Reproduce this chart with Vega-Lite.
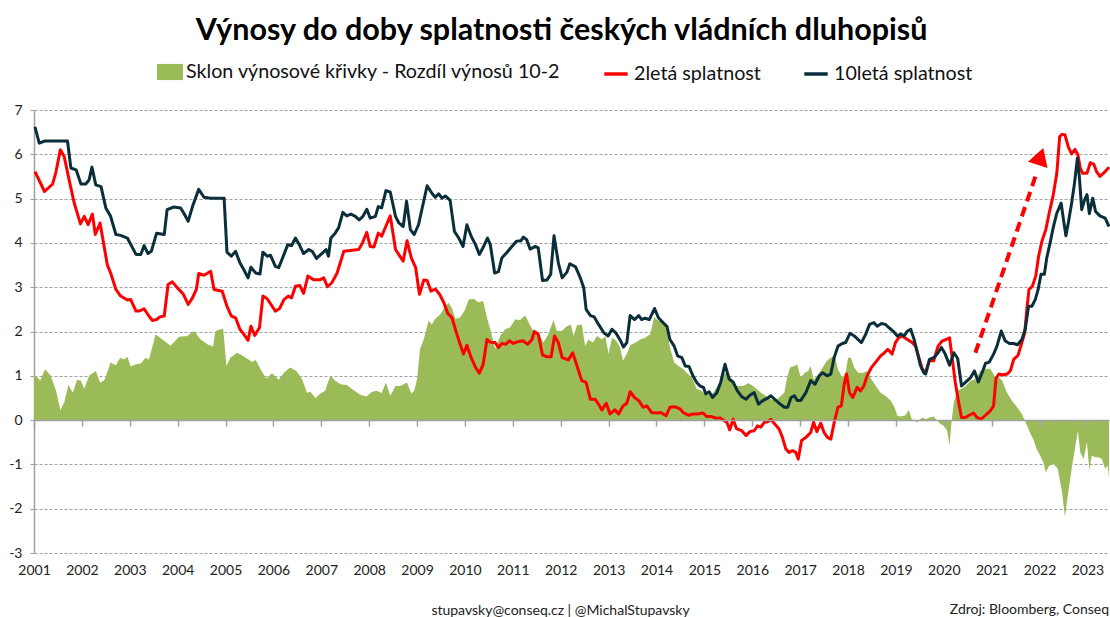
{
"$schema": "https://vega.github.io/schema/vega-lite/v6.json",
"width": 1075, "height": 443,
"autosize": {"type": "none"},
"padding": {"left": 34, "top": 110, "right": 1, "bottom": 64},
"background": "white",
"title": {"text": "Výnosy do doby splatnosti českých vládních dluhopisů", "font": "Lato", "fontSize": 30.5, "fontWeight": "bold", "color": "#000000", "anchor": "middle", "dx": -10, "baseline": "alphabetic", "offset": -11},
"config": {
  "view": {"stroke": null},
  "axisY": {"values": [-3,-2,-1,0,1,2,3,4,5,6,7], "labelExpr": "'' + datum.value", "grid": true, "gridDash": [3,2], "gridColor": "#a0a0a0", "gridWidth": 1, "domain": true, "domainColor": "#a0a0a0", "domainWidth": 1.5, "ticks": true, "tickSize": 4, "tickColor": "#a0a0a0", "labelFont": "Lato", "labelFontSize": 14, "labelColor": "#222222", "labelPadding": 8, "title": null},
  "legend": {"orient": "none", "direction": "horizontal", "gridAlign": "none", "labelFont": "Lato", "labelFontSize": 19.7, "labelColor": "#111111", "labelOffset": 3, "symbolSize": 676, "title": null, "padding": 0, "labelLimit": 500}
},
"datasets": {
  "a": [{"t":2001.0,"v":1.0},{"t":2001.04,"v":1.0},{"t":2001.13,"v":0.89},{"t":2001.23,"v":1.15},{"t":2001.35,"v":1.0},{"t":2001.46,"v":0.66},{"t":2001.55,"v":0.23},{"t":2001.63,"v":0.4},{"t":2001.72,"v":0.79},{"t":2001.81,"v":0.62},{"t":2001.9,"v":0.91},{"t":2001.98,"v":0.89},{"t":2002.05,"v":0.71},{"t":2002.15,"v":1.0},{"t":2002.29,"v":1.11},{"t":2002.38,"v":0.85},{"t":2002.47,"v":0.9},{"t":2002.6,"v":1.3},{"t":2002.71,"v":1.24},{"t":2002.8,"v":1.41},{"t":2002.88,"v":1.37},{"t":2002.95,"v":1.43},{"t":2003.02,"v":1.21},{"t":2003.13,"v":1.26},{"t":2003.23,"v":1.28},{"t":2003.33,"v":1.41},{"t":2003.4,"v":1.36},{"t":2003.54,"v":1.94},{"t":2003.68,"v":1.82},{"t":2003.85,"v":1.68},{"t":2004.03,"v":1.88},{"t":2004.2,"v":1.9},{"t":2004.34,"v":2.01},{"t":2004.48,"v":1.82},{"t":2004.62,"v":1.71},{"t":2004.74,"v":1.66},{"t":2004.79,"v":2.01},{"t":2004.95,"v":2.07},{"t":2005.02,"v":1.22},{"t":2005.1,"v":1.41},{"t":2005.24,"v":1.52},{"t":2005.35,"v":1.46},{"t":2005.56,"v":1.31},{"t":2005.63,"v":1.36},{"t":2005.73,"v":1.15},{"t":2005.85,"v":0.94},{"t":2005.97,"v":1.06},{"t":2006.11,"v":0.91},{"t":2006.22,"v":1.07},{"t":2006.35,"v":1.19},{"t":2006.48,"v":1.11},{"t":2006.6,"v":0.92},{"t":2006.7,"v":0.62},{"t":2006.77,"v":0.64},{"t":2006.88,"v":0.5},{"t":2006.98,"v":0.6},{"t":2007.08,"v":0.66},{"t":2007.19,"v":1.0},{"t":2007.29,"v":0.89},{"t":2007.4,"v":0.81},{"t":2007.53,"v":0.79},{"t":2007.67,"v":0.68},{"t":2007.81,"v":0.57},{"t":2007.94,"v":0.53},{"t":2008.06,"v":0.64},{"t":2008.16,"v":0.66},{"t":2008.26,"v":0.61},{"t":2008.35,"v":0.85},{"t":2008.44,"v":0.55},{"t":2008.55,"v":0.77},{"t":2008.65,"v":0.77},{"t":2008.79,"v":0.85},{"t":2008.88,"v":0.6},{"t":2008.94,"v":0.66},{"t":2009.0,"v":0.92},{"t":2009.06,"v":1.6},{"t":2009.14,"v":1.82},{"t":2009.24,"v":2.24},{"t":2009.31,"v":2.16},{"t":2009.38,"v":2.29},{"t":2009.49,"v":2.39},{"t":2009.58,"v":2.56},{"t":2009.66,"v":2.65},{"t":2009.73,"v":2.52},{"t":2009.8,"v":2.29},{"t":2009.89,"v":2.31},{"t":2009.99,"v":2.46},{"t":2010.08,"v":2.72},{"t":2010.18,"v":2.74},{"t":2010.28,"v":2.66},{"t":2010.38,"v":2.69},{"t":2010.46,"v":2.31},{"t":2010.53,"v":2.05},{"t":2010.63,"v":1.61},{"t":2010.74,"v":1.91},{"t":2010.84,"v":2.05},{"t":2010.94,"v":2.09},{"t":2011.05,"v":2.27},{"t":2011.15,"v":2.26},{"t":2011.26,"v":2.36},{"t":2011.35,"v":2.16},{"t":2011.43,"v":2.01},{"t":2011.53,"v":1.99},{"t":2011.64,"v":1.75},{"t":2011.74,"v":1.94},{"t":2011.85,"v":2.26},{"t":2011.92,"v":2.01},{"t":2012.02,"v":2.01},{"t":2012.13,"v":2.12},{"t":2012.21,"v":2.16},{"t":2012.27,"v":1.9},{"t":2012.34,"v":2.14},{"t":2012.44,"v":2.16},{"t":2012.51,"v":1.67},{"t":2012.58,"v":1.82},{"t":2012.67,"v":1.75},{"t":2012.76,"v":1.9},{"t":2012.86,"v":1.82},{"t":2012.93,"v":1.9},{"t":2013.0,"v":1.49},{"t":2013.07,"v":1.86},{"t":2013.16,"v":1.79},{"t":2013.24,"v":1.64},{"t":2013.3,"v":1.34},{"t":2013.38,"v":1.49},{"t":2013.45,"v":1.69},{"t":2013.56,"v":1.75},{"t":2013.66,"v":1.82},{"t":2013.76,"v":1.86},{"t":2013.87,"v":1.94},{"t":2013.95,"v":2.33},{"t":2014.04,"v":2.24},{"t":2014.15,"v":2.2},{"t":2014.23,"v":1.97},{"t":2014.28,"v":1.64},{"t":2014.37,"v":1.3},{"t":2014.46,"v":1.22},{"t":2014.56,"v":1.15},{"t":2014.63,"v":1.07},{"t":2014.74,"v":0.96},{"t":2014.84,"v":0.7},{"t":2014.94,"v":0.66},{"t":2015.05,"v":0.56},{"t":2015.19,"v":0.62},{"t":2015.36,"v":0.92},{"t":2015.43,"v":1.07},{"t":2015.53,"v":1.0},{"t":2015.67,"v":0.77},{"t":2015.81,"v":0.77},{"t":2015.92,"v":0.83},{"t":2016.02,"v":0.77},{"t":2016.18,"v":0.62},{"t":2016.28,"v":0.55},{"t":2016.39,"v":0.47},{"t":2016.49,"v":0.44},{"t":2016.6,"v":0.55},{"t":2016.67,"v":0.62},{"t":2016.72,"v":0.92},{"t":2016.79,"v":1.19},{"t":2016.88,"v":1.22},{"t":2016.94,"v":1.26},{"t":2017.01,"v":0.96},{"t":2017.1,"v":1.07},{"t":2017.17,"v":1.11},{"t":2017.22,"v":1.22},{"t":2017.28,"v":0.92},{"t":2017.36,"v":1.0},{"t":2017.47,"v":1.19},{"t":2017.56,"v":1.34},{"t":2017.64,"v":1.41},{"t":2017.72,"v":1.46},{"t":2017.79,"v":1.15},{"t":2017.88,"v":0.96},{"t":2017.95,"v":1.07},{"t":2018.0,"v":1.41},{"t":2018.06,"v":1.41},{"t":2018.13,"v":1.19},{"t":2018.21,"v":1.07},{"t":2018.32,"v":1.07},{"t":2018.4,"v":1.11},{"t":2018.49,"v":0.92},{"t":2018.58,"v":0.77},{"t":2018.68,"v":0.62},{"t":2018.78,"v":0.55},{"t":2018.89,"v":0.44},{"t":2018.97,"v":0.29},{"t":2019.03,"v":0.1},{"t":2019.1,"v":0.08},{"t":2019.2,"v":0.11},{"t":2019.27,"v":0.23},{"t":2019.33,"v":0.02},{"t":2019.38,"v":-0.01},{"t":2019.44,"v":-0.05},{"t":2019.55,"v":0.06},{"t":2019.62,"v":0.02},{"t":2019.7,"v":0.06},{"t":2019.79,"v":0.08},{"t":2019.86,"v":-0.01},{"t":2019.93,"v":-0.09},{"t":2020.0,"v":-0.13},{"t":2020.07,"v":-0.24},{"t":2020.12,"v":-0.58},{"t":2020.16,"v":-0.05},{"t":2020.21,"v":0.4},{"t":2020.28,"v":0.66},{"t":2020.37,"v":0.71},{"t":2020.45,"v":0.76},{"t":2020.56,"v":0.89},{"t":2020.66,"v":0.92},{"t":2020.76,"v":1.11},{"t":2020.87,"v":1.16},{"t":2020.97,"v":1.16},{"t":2021.08,"v":0.96},{"t":2021.16,"v":0.96},{"t":2021.22,"v":0.89},{"t":2021.32,"v":0.62},{"t":2021.42,"v":0.44},{"t":2021.53,"v":0.29},{"t":2021.63,"v":0.14},{"t":2021.69,"v":-0.01},{"t":2021.74,"v":-0.13},{"t":2021.81,"v":-0.31},{"t":2021.88,"v":-0.46},{"t":2021.94,"v":-0.65},{"t":2022.01,"v":-0.8},{"t":2022.08,"v":-0.95},{"t":2022.13,"v":-1.18},{"t":2022.2,"v":-1.03},{"t":2022.29,"v":-0.99},{"t":2022.38,"v":-1.1},{"t":2022.47,"v":-1.63},{"t":2022.53,"v":-2.19},{"t":2022.59,"v":-1.7},{"t":2022.67,"v":-1.1},{"t":2022.76,"v":-0.5},{"t":2022.8,"v":-0.24},{"t":2022.85,"v":-0.73},{"t":2022.92,"v":-0.88},{"t":2022.99,"v":-0.5},{"t":2023.04,"v":-1.14},{"t":2023.09,"v":-0.8},{"t":2023.16,"v":-0.84},{"t":2023.23,"v":-0.84},{"t":2023.3,"v":-0.88},{"t":2023.37,"v":-1.1},{"t":2023.42,"v":-1.03},{"t":2023.45,"v":-1.29}],
  "r": [{"t":2001.02,"v":5.61},{"t":2001.22,"v":5.16},{"t":2001.39,"v":5.33},{"t":2001.46,"v":5.61},{"t":2001.55,"v":6.1},{"t":2001.63,"v":5.95},{"t":2001.74,"v":5.39},{"t":2001.84,"v":4.9},{"t":2001.97,"v":4.43},{"t":2002.05,"v":4.6},{"t":2002.13,"v":4.41},{"t":2002.22,"v":4.65},{"t":2002.28,"v":4.19},{"t":2002.38,"v":4.45},{"t":2002.53,"v":3.51},{"t":2002.6,"v":3.32},{"t":2002.71,"v":2.95},{"t":2002.81,"v":2.8},{"t":2002.95,"v":2.71},{"t":2003.02,"v":2.72},{"t":2003.13,"v":2.46},{"t":2003.19,"v":2.46},{"t":2003.3,"v":2.51},{"t":2003.4,"v":2.35},{"t":2003.47,"v":2.25},{"t":2003.56,"v":2.27},{"t":2003.63,"v":2.33},{"t":2003.72,"v":2.35},{"t":2003.8,"v":3.06},{"t":2003.89,"v":3.12},{"t":2003.99,"v":2.99},{"t":2004.12,"v":2.84},{"t":2004.22,"v":2.61},{"t":2004.31,"v":2.76},{"t":2004.39,"v":2.95},{"t":2004.44,"v":3.31},{"t":2004.55,"v":3.27},{"t":2004.69,"v":3.36},{"t":2004.76,"v":2.95},{"t":2004.93,"v":2.91},{"t":2005.03,"v":2.57},{"t":2005.12,"v":2.35},{"t":2005.21,"v":2.31},{"t":2005.3,"v":2.05},{"t":2005.38,"v":1.94},{"t":2005.47,"v":1.8},{"t":2005.53,"v":2.12},{"t":2005.61,"v":1.91},{"t":2005.71,"v":2.09},{"t":2005.78,"v":2.8},{"t":2005.87,"v":2.74},{"t":2005.95,"v":2.61},{"t":2006.04,"v":2.46},{"t":2006.13,"v":2.52},{"t":2006.22,"v":2.72},{"t":2006.31,"v":2.8},{"t":2006.38,"v":2.76},{"t":2006.46,"v":3.02},{"t":2006.55,"v":3.04},{"t":2006.63,"v":2.86},{"t":2006.72,"v":3.25},{"t":2006.84,"v":3.17},{"t":2006.98,"v":3.17},{"t":2007.05,"v":3.21},{"t":2007.13,"v":3.01},{"t":2007.22,"v":3.1},{"t":2007.33,"v":3.32},{"t":2007.47,"v":3.81},{"t":2007.6,"v":3.83},{"t":2007.78,"v":3.85},{"t":2007.86,"v":4.0},{"t":2007.95,"v":4.24},{"t":2008.02,"v":3.92},{"t":2008.1,"v":3.91},{"t":2008.19,"v":4.22},{"t":2008.26,"v":4.15},{"t":2008.44,"v":4.61},{"t":2008.55,"v":3.85},{"t":2008.64,"v":3.7},{"t":2008.71,"v":3.59},{"t":2008.79,"v":4.05},{"t":2008.88,"v":3.66},{"t":2008.97,"v":3.44},{"t":2009.05,"v":2.84},{"t":2009.14,"v":3.16},{"t":2009.21,"v":3.15},{"t":2009.29,"v":2.91},{"t":2009.38,"v":2.96},{"t":2009.47,"v":2.84},{"t":2009.56,"v":2.65},{"t":2009.64,"v":2.41},{"t":2009.73,"v":2.31},{"t":2009.81,"v":2.01},{"t":2009.9,"v":1.71},{"t":2009.97,"v":1.49},{"t":2010.04,"v":1.69},{"t":2010.13,"v":1.41},{"t":2010.22,"v":1.19},{"t":2010.3,"v":1.06},{"t":2010.38,"v":1.26},{"t":2010.46,"v":1.82},{"t":2010.53,"v":1.76},{"t":2010.63,"v":1.75},{"t":2010.7,"v":1.64},{"t":2010.77,"v":1.73},{"t":2010.85,"v":1.71},{"t":2010.93,"v":1.79},{"t":2011.01,"v":1.73},{"t":2011.1,"v":1.77},{"t":2011.21,"v":1.79},{"t":2011.31,"v":1.71},{"t":2011.4,"v":1.82},{"t":2011.45,"v":2.0},{"t":2011.53,"v":1.94},{"t":2011.62,"v":1.47},{"t":2011.71,"v":1.43},{"t":2011.8,"v":1.43},{"t":2011.87,"v":1.9},{"t":2011.95,"v":1.75},{"t":2012.03,"v":1.41},{"t":2012.16,"v":1.36},{"t":2012.25,"v":1.52},{"t":2012.35,"v":1.19},{"t":2012.44,"v":0.89},{"t":2012.53,"v":0.85},{"t":2012.62,"v":0.47},{"t":2012.72,"v":0.47},{"t":2012.79,"v":0.36},{"t":2012.86,"v":0.23},{"t":2012.95,"v":0.38},{"t":2013.03,"v":0.14},{"t":2013.13,"v":0.23},{"t":2013.21,"v":0.14},{"t":2013.3,"v":0.32},{"t":2013.38,"v":0.38},{"t":2013.45,"v":0.64},{"t":2013.54,"v":0.51},{"t":2013.63,"v":0.44},{"t":2013.72,"v":0.29},{"t":2013.8,"v":0.32},{"t":2013.9,"v":0.17},{"t":2014.01,"v":0.16},{"t":2014.09,"v":0.17},{"t":2014.2,"v":0.1},{"t":2014.28,"v":0.29},{"t":2014.39,"v":0.3},{"t":2014.48,"v":0.26},{"t":2014.56,"v":0.17},{"t":2014.67,"v":0.11},{"t":2014.77,"v":0.14},{"t":2014.87,"v":0.14},{"t":2014.97,"v":0.16},{"t":2015.05,"v":0.08},{"t":2015.15,"v":0.08},{"t":2015.26,"v":0.04},{"t":2015.33,"v":0.05},{"t":2015.41,"v":-0.01},{"t":2015.47,"v":-0.05},{"t":2015.53,"v":-0.22},{"t":2015.6,"v":0.02},{"t":2015.67,"v":-0.19},{"t":2015.78,"v":-0.24},{"t":2015.87,"v":-0.35},{"t":2015.95,"v":-0.26},{"t":2016.04,"v":-0.24},{"t":2016.11,"v":-0.13},{"t":2016.18,"v":-0.16},{"t":2016.25,"v":-0.05},{"t":2016.32,"v":-0.04},{"t":2016.39,"v":0.02},{"t":2016.47,"v":-0.09},{"t":2016.56,"v":-0.2},{"t":2016.63,"v":-0.39},{"t":2016.7,"v":-0.65},{"t":2016.77,"v":-0.73},{"t":2016.84,"v":-0.69},{"t":2016.91,"v":-0.73},{"t":2016.96,"v":-0.88},{"t":2017.03,"v":-0.46},{"t":2017.12,"v":-0.39},{"t":2017.22,"v":-0.28},{"t":2017.28,"v":-0.05},{"t":2017.35,"v":-0.26},{"t":2017.43,"v":-0.07},{"t":2017.5,"v":-0.28},{"t":2017.57,"v":-0.39},{"t":2017.64,"v":-0.43},{"t":2017.72,"v":-0.01},{"t":2017.79,"v":0.29},{"t":2017.86,"v":0.32},{"t":2017.92,"v":0.81},{"t":2017.97,"v":1.04},{"t":2018.03,"v":0.62},{"t":2018.1,"v":0.51},{"t":2018.19,"v":0.74},{"t":2018.26,"v":0.66},{"t":2018.33,"v":0.77},{"t":2018.4,"v":1.0},{"t":2018.49,"v":1.19},{"t":2018.58,"v":1.31},{"t":2018.68,"v":1.45},{"t":2018.75,"v":1.51},{"t":2018.83,"v":1.6},{"t":2018.92,"v":1.49},{"t":2018.99,"v":1.75},{"t":2019.06,"v":1.86},{"t":2019.13,"v":1.9},{"t":2019.24,"v":1.82},{"t":2019.34,"v":1.75},{"t":2019.41,"v":1.67},{"t":2019.48,"v":1.41},{"t":2019.55,"v":1.15},{"t":2019.62,"v":1.07},{"t":2019.7,"v":1.34},{"t":2019.79,"v":1.34},{"t":2019.88,"v":1.67},{"t":2019.97,"v":1.79},{"t":2020.05,"v":1.82},{"t":2020.12,"v":1.86},{"t":2020.17,"v":1.45},{"t":2020.24,"v":0.85},{"t":2020.31,"v":0.4},{"t":2020.37,"v":0.06},{"t":2020.45,"v":0.06},{"t":2020.53,"v":0.11},{"t":2020.62,"v":0.16},{"t":2020.69,"v":0.06},{"t":2020.78,"v":0.02},{"t":2020.87,"v":0.11},{"t":2020.97,"v":0.21},{"t":2021.04,"v":0.32},{"t":2021.09,"v":0.94},{"t":2021.15,"v":1.04},{"t":2021.22,"v":1.02},{"t":2021.32,"v":1.04},{"t":2021.39,"v":1.11},{"t":2021.46,"v":1.37},{"t":2021.55,"v":1.46},{"t":2021.63,"v":1.75},{"t":2021.69,"v":1.97},{"t":2021.74,"v":2.57},{"t":2021.78,"v":2.95},{"t":2021.85,"v":3.02},{"t":2021.92,"v":3.25},{"t":2021.98,"v":3.7},{"t":2022.05,"v":4.04},{"t":2022.13,"v":4.3},{"t":2022.2,"v":4.67},{"t":2022.28,"v":5.05},{"t":2022.36,"v":5.57},{"t":2022.42,"v":6.4},{"t":2022.47,"v":6.45},{"t":2022.53,"v":6.44},{"t":2022.6,"v":6.17},{"t":2022.67,"v":6.01},{"t":2022.74,"v":6.11},{"t":2022.8,"v":5.99},{"t":2022.85,"v":5.69},{"t":2022.9,"v":5.57},{"t":2022.99,"v":5.57},{"t":2023.06,"v":5.81},{"t":2023.13,"v":5.78},{"t":2023.19,"v":5.61},{"t":2023.26,"v":5.5},{"t":2023.37,"v":5.61},{"t":2023.45,"v":5.71}],
  "d": [{"t":2001.02,"v":6.62},{"t":2001.11,"v":6.25},{"t":2001.22,"v":6.3},{"t":2001.7,"v":6.3},{"t":2001.77,"v":5.69},{"t":2001.88,"v":5.65},{"t":2001.98,"v":5.33},{"t":2002.08,"v":5.33},{"t":2002.15,"v":5.42},{"t":2002.21,"v":5.71},{"t":2002.29,"v":5.31},{"t":2002.4,"v":5.27},{"t":2002.5,"v":4.79},{"t":2002.6,"v":4.6},{"t":2002.71,"v":4.19},{"t":2002.81,"v":4.17},{"t":2002.95,"v":4.11},{"t":2003.13,"v":3.74},{"t":2003.23,"v":3.74},{"t":2003.3,"v":3.94},{"t":2003.38,"v":3.76},{"t":2003.45,"v":3.81},{"t":2003.56,"v":4.22},{"t":2003.72,"v":4.19},{"t":2003.78,"v":4.75},{"t":2003.92,"v":4.81},{"t":2004.06,"v":4.79},{"t":2004.13,"v":4.67},{"t":2004.22,"v":4.49},{"t":2004.31,"v":4.82},{"t":2004.44,"v":5.21},{"t":2004.55,"v":5.03},{"t":2004.69,"v":5.01},{"t":2004.97,"v":5.01},{"t":2005.03,"v":3.79},{"t":2005.12,"v":3.7},{"t":2005.21,"v":3.81},{"t":2005.3,"v":3.55},{"t":2005.38,"v":3.4},{"t":2005.47,"v":3.21},{"t":2005.53,"v":3.45},{"t":2005.63,"v":3.32},{"t":2005.72,"v":3.3},{"t":2005.78,"v":3.79},{"t":2005.87,"v":3.7},{"t":2005.94,"v":3.72},{"t":2006.04,"v":3.47},{"t":2006.11,"v":3.44},{"t":2006.22,"v":3.74},{"t":2006.3,"v":3.96},{"t":2006.38,"v":3.94},{"t":2006.46,"v":4.11},{"t":2006.55,"v":3.94},{"t":2006.63,"v":3.76},{"t":2006.74,"v":3.85},{"t":2006.81,"v":3.81},{"t":2006.9,"v":3.65},{"t":2007.01,"v":3.76},{"t":2007.1,"v":3.85},{"t":2007.15,"v":3.7},{"t":2007.2,"v":4.11},{"t":2007.29,"v":4.22},{"t":2007.36,"v":4.34},{"t":2007.45,"v":4.69},{"t":2007.53,"v":4.61},{"t":2007.62,"v":4.65},{"t":2007.71,"v":4.6},{"t":2007.79,"v":4.52},{"t":2007.87,"v":4.6},{"t":2007.95,"v":4.76},{"t":2008.02,"v":4.56},{"t":2008.13,"v":4.6},{"t":2008.19,"v":4.82},{"t":2008.26,"v":4.79},{"t":2008.35,"v":5.18},{"t":2008.44,"v":5.15},{"t":2008.55,"v":4.6},{"t":2008.62,"v":4.45},{"t":2008.71,"v":4.37},{"t":2008.78,"v":4.94},{"t":2008.86,"v":4.3},{"t":2008.94,"v":4.19},{"t":2009.03,"v":4.41},{"t":2009.21,"v":5.29},{"t":2009.31,"v":5.12},{"t":2009.38,"v":5.03},{"t":2009.45,"v":5.11},{"t":2009.52,"v":5.01},{"t":2009.59,"v":5.06},{"t":2009.69,"v":4.96},{"t":2009.78,"v":4.26},{"t":2009.87,"v":4.11},{"t":2009.96,"v":3.92},{"t":2010.04,"v":4.41},{"t":2010.13,"v":4.15},{"t":2010.22,"v":3.96},{"t":2010.3,"v":3.74},{"t":2010.39,"v":3.92},{"t":2010.47,"v":4.11},{"t":2010.53,"v":3.96},{"t":2010.62,"v":3.32},{"t":2010.7,"v":3.35},{"t":2010.77,"v":3.66},{"t":2010.88,"v":3.79},{"t":2010.98,"v":3.92},{"t":2011.08,"v":4.04},{"t":2011.17,"v":4.05},{"t":2011.22,"v":4.13},{"t":2011.29,"v":4.07},{"t":2011.36,"v":3.86},{"t":2011.47,"v":3.92},{"t":2011.53,"v":3.89},{"t":2011.62,"v":3.15},{"t":2011.71,"v":3.16},{"t":2011.79,"v":3.29},{"t":2011.86,"v":4.16},{"t":2011.95,"v":3.55},{"t":2012.03,"v":3.21},{"t":2012.13,"v":3.34},{"t":2012.19,"v":3.53},{"t":2012.31,"v":3.46},{"t":2012.41,"v":3.21},{"t":2012.48,"v":2.99},{"t":2012.53,"v":2.5},{"t":2012.62,"v":2.36},{"t":2012.7,"v":2.33},{"t":2012.79,"v":2.16},{"t":2012.9,"v":1.97},{"t":2012.99,"v":1.9},{"t":2013.07,"v":2.05},{"t":2013.15,"v":1.97},{"t":2013.24,"v":1.81},{"t":2013.31,"v":1.65},{"t":2013.38,"v":1.75},{"t":2013.45,"v":2.36},{"t":2013.54,"v":2.27},{"t":2013.63,"v":2.36},{"t":2013.69,"v":2.27},{"t":2013.76,"v":2.3},{"t":2013.85,"v":2.27},{"t":2013.96,"v":2.52},{"t":2014.04,"v":2.31},{"t":2014.13,"v":2.21},{"t":2014.22,"v":2.11},{"t":2014.28,"v":1.82},{"t":2014.37,"v":1.67},{"t":2014.44,"v":1.45},{"t":2014.53,"v":1.41},{"t":2014.6,"v":1.22},{"t":2014.68,"v":1.21},{"t":2014.76,"v":1.0},{"t":2014.84,"v":0.85},{"t":2014.91,"v":0.77},{"t":2014.98,"v":0.74},{"t":2015.03,"v":0.59},{"t":2015.1,"v":0.64},{"t":2015.17,"v":0.51},{"t":2015.26,"v":0.62},{"t":2015.34,"v":0.85},{"t":2015.43,"v":1.26},{"t":2015.52,"v":0.92},{"t":2015.6,"v":0.86},{"t":2015.69,"v":0.66},{"t":2015.78,"v":0.53},{"t":2015.87,"v":0.47},{"t":2015.95,"v":0.56},{"t":2016.04,"v":0.62},{"t":2016.13,"v":0.36},{"t":2016.22,"v":0.44},{"t":2016.31,"v":0.49},{"t":2016.39,"v":0.55},{"t":2016.47,"v":0.47},{"t":2016.56,"v":0.38},{"t":2016.67,"v":0.29},{"t":2016.74,"v":0.29},{"t":2016.81,"v":0.51},{"t":2016.88,"v":0.55},{"t":2016.94,"v":0.44},{"t":2017.01,"v":0.44},{"t":2017.12,"v":0.62},{"t":2017.22,"v":0.89},{"t":2017.31,"v":0.81},{"t":2017.4,"v":1.0},{"t":2017.47,"v":1.07},{"t":2017.56,"v":1.0},{"t":2017.64,"v":1.04},{"t":2017.71,"v":1.41},{"t":2017.79,"v":1.67},{"t":2017.88,"v":1.73},{"t":2017.95,"v":1.75},{"t":2018.04,"v":1.96},{"t":2018.13,"v":1.9},{"t":2018.19,"v":1.84},{"t":2018.28,"v":1.75},{"t":2018.37,"v":1.94},{"t":2018.45,"v":2.16},{"t":2018.54,"v":2.2},{"t":2018.61,"v":2.12},{"t":2018.7,"v":2.18},{"t":2018.78,"v":2.16},{"t":2018.85,"v":2.09},{"t":2018.94,"v":2.01},{"t":2019.03,"v":1.9},{"t":2019.1,"v":1.94},{"t":2019.17,"v":1.9},{"t":2019.24,"v":2.01},{"t":2019.31,"v":2.05},{"t":2019.38,"v":1.82},{"t":2019.44,"v":1.56},{"t":2019.51,"v":1.24},{"t":2019.58,"v":1.07},{"t":2019.62,"v":1.04},{"t":2019.7,"v":1.37},{"t":2019.79,"v":1.41},{"t":2019.88,"v":1.52},{"t":2019.95,"v":1.64},{"t":2020.03,"v":1.49},{"t":2020.12,"v":1.24},{"t":2020.21,"v":1.52},{"t":2020.29,"v":1.39},{"t":2020.37,"v":0.77},{"t":2020.45,"v":0.85},{"t":2020.56,"v":0.96},{"t":2020.64,"v":1.11},{"t":2020.72,"v":0.86},{"t":2020.8,"v":1.07},{"t":2020.87,"v":1.28},{"t":2020.95,"v":1.31},{"t":2021.04,"v":1.49},{"t":2021.11,"v":1.67},{"t":2021.2,"v":2.01},{"t":2021.28,"v":1.79},{"t":2021.37,"v":1.73},{"t":2021.46,"v":1.73},{"t":2021.54,"v":1.7},{"t":2021.63,"v":1.82},{"t":2021.7,"v":2.05},{"t":2021.77,"v":2.57},{"t":2021.84,"v":2.57},{"t":2021.91,"v":2.72},{"t":2021.97,"v":2.95},{"t":2022.03,"v":3.29},{"t":2022.1,"v":3.29},{"t":2022.15,"v":3.66},{"t":2022.22,"v":4.0},{"t":2022.29,"v":4.37},{"t":2022.36,"v":4.67},{"t":2022.45,"v":4.9},{"t":2022.5,"v":4.52},{"t":2022.55,"v":4.16},{"t":2022.6,"v":4.45},{"t":2022.67,"v":4.9},{"t":2022.73,"v":5.35},{"t":2022.79,"v":5.91},{"t":2022.83,"v":5.5},{"t":2022.88,"v":4.75},{"t":2022.94,"v":4.97},{"t":2022.99,"v":5.09},{"t":2023.04,"v":4.66},{"t":2023.11,"v":5.01},{"t":2023.17,"v":4.71},{"t":2023.26,"v":4.61},{"t":2023.37,"v":4.56},{"t":2023.45,"v":4.37}],
  "arrow": [{"t":2020.66,"v":1.52},{"t":2021.93,"v":5.55}],
  "head": [{"t":2022.02,"v":5.95}]
},
"resolve": {"axis": {"x": "independent"}},
"layer": [
  {
    "data": {"name": "a"},
    "mark": {"type": "area", "opacity": 1},
    "encoding": {
      "x": {"field": "t", "type": "quantitative", "scale": {"domain": [2001, 2023.45], "nice": false, "zero": false},
            "axis": {"orient": "bottom", "values": [2001,2002,2003,2004,2005,2006,2007,2008,2009,2010,2011,2012,2013,2014,2015,2016,2017,2018,2019,2020,2021,2022,2023], "format": "d", "domain": false, "ticks": false, "grid": false, "labelFont": "Lato", "labelFontSize": 14, "labelColor": "#222222", "labelPadding": 10, "labelFlush": false, "labelOverlap": false,
                     "title": "stupavsky@conseq.cz  |  @MichalStupavsky", "titleFont": "Lato", "titleFontSize": 14, "titleFontWeight": "normal", "titleColor": "#222222", "titleX": 526, "titleY": 61, "titleBaseline": "alphabetic", "titleAlign": "center"}},
      "y": {"field": "v", "type": "quantitative", "scale": {"domain": [-3, 7], "nice": false}, "title": null},
      "fill": {"datum": "Sklon výnosové křivky - Rozdíl výnosů 10-2", "type": "nominal",
               "scale": {"domain": ["Sklon výnosové křivky - Rozdíl výnosů 10-2"], "range": ["#9BBB59"]},
               "legend": {"symbolType": "M-1,-0.62H1V0.62H-1Z", "legendX": 123, "legendY": -51, "symbolStrokeWidth": 0}}
    }
  },
  {
    "data": {"name": "r"},
    "mark": {"type": "line", "strokeWidth": 3, "strokeJoin": "round"},
    "encoding": {
      "x": {"field": "t", "type": "quantitative", "axis": {"orient": "top", "offset": -310.1, "zindex": 1, "values": [2001,2002,2003,2004,2005,2006,2007,2008,2009,2010,2011,2012,2013,2014,2015,2016,2017,2018,2019,2020,2021,2022,2023], "labels": false, "grid": false, "domain": true, "domainColor": "#a0a0a0", "domainWidth": 1.5, "ticks": true, "tickSize": -6, "tickColor": "#a0a0a0", "tickWidth": 1.5, "title": null}},
      "y": {"field": "v", "type": "quantitative", "title": null},
      "stroke": {"datum": "2letá splatnost", "type": "nominal",
                 "scale": {"domain": ["2letá splatnost", "10letá splatnost"], "range": ["#FF0000", "#0B2F3A"]},
                 "legend": {"symbolType": "M-0.9,0H0.9", "symbolStrokeWidth": 3.5, "legendX": 567, "legendY": -51, "columns": 2, "columnPadding": 36}}
    }
  },
  {
    "data": {"name": "d"},
    "mark": {"type": "line", "strokeWidth": 3, "strokeJoin": "round"},
    "encoding": {
      "x": {"field": "t", "type": "quantitative", "axis": null},
      "y": {"field": "v", "type": "quantitative", "title": null},
      "stroke": {"datum": "10letá splatnost", "type": "nominal"}
    }
  },
  {
    "data": {"name": "arrow"},
    "mark": {"type": "line", "strokeWidth": 4, "strokeDash": [10, 6], "color": "#FF0000"},
    "encoding": {
      "x": {"field": "t", "type": "quantitative", "axis": null},
      "y": {"field": "v", "type": "quantitative", "title": null}
    }
  },
  {
    "data": {"name": "head"},
    "mark": {"type": "point", "shape": "triangle-up", "filled": true, "size": 420, "angle": 18, "color": "#FF0000", "opacity": 1},
    "encoding": {
      "x": {"field": "t", "type": "quantitative", "axis": null},
      "y": {"field": "v", "type": "quantitative", "title": null}
    }
  },
  {
    "data": {"values": [{}]},
    "mark": {"type": "text", "text": "Zdroj: Bloomberg, Conseq", "align": "right", "baseline": "alphabetic", "dy": 61, "font": "Lato", "fontSize": 14, "color": "#222222"},
    "encoding": {
      "x": {"datum": 2023.45, "type": "quantitative", "axis": null},
      "y": {"datum": -3, "type": "quantitative", "title": null}
    }
  }
]
}
